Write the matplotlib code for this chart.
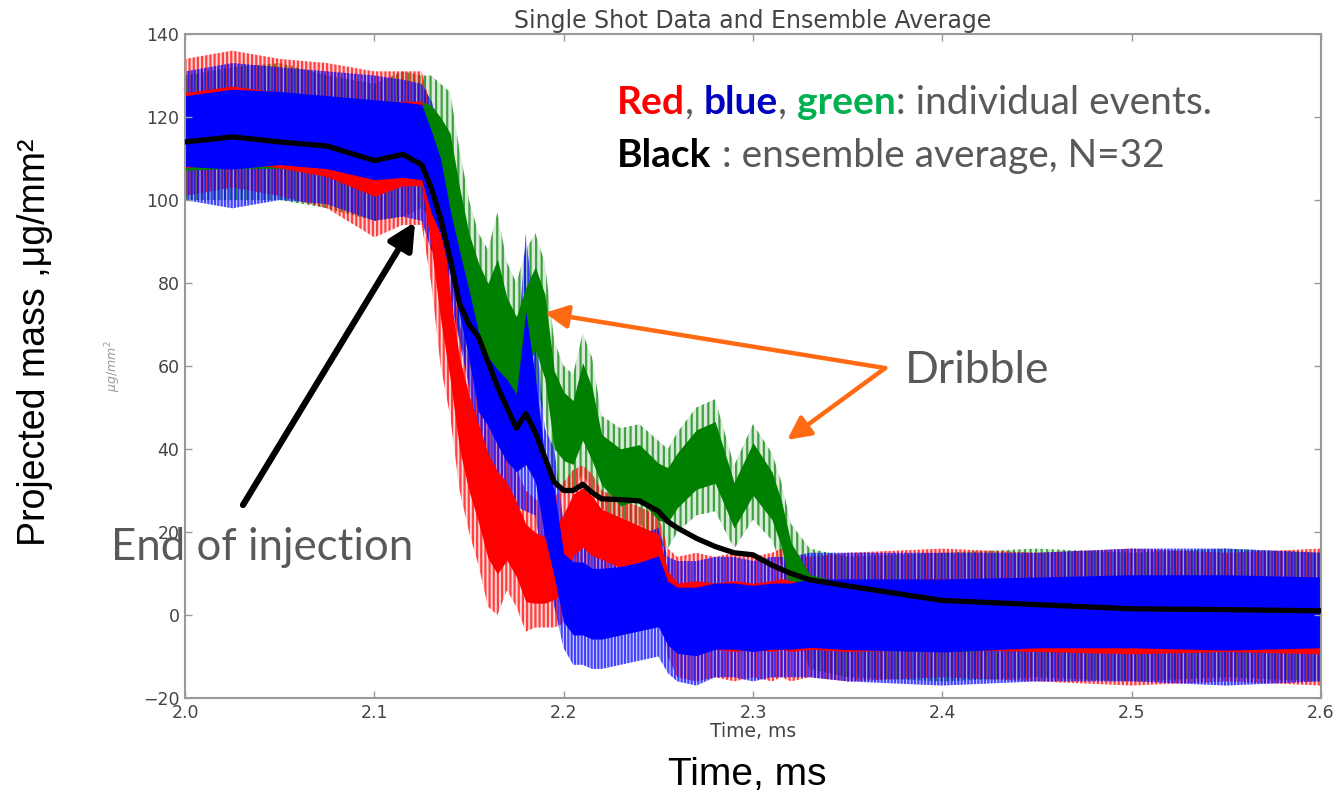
import matplotlib
matplotlib.use("Agg")
from matplotlib import pyplot as plt
import numpy as np

t = [2.000, 2.025, 2.050, 2.075, 2.100, 2.115, 2.125, 2.130, 2.135, 2.140,
     2.145, 2.150, 2.155, 2.160, 2.165, 2.170, 2.175, 2.180, 2.185, 2.190,
     2.195, 2.200, 2.205, 2.210, 2.215, 2.220, 2.230, 2.240, 2.250, 2.255,
     2.260, 2.270, 2.280, 2.290, 2.300, 2.310, 2.315, 2.320, 2.330, 2.350,
     2.400, 2.450, 2.500, 2.550, 2.600]

# single shots: centre of the noisy trace and its lowest / highest excursion
blue_mid = [118, 119, 119, 118, 117, 117, 117, 108, 100, 90,
            80, 70, 60, 55, 52, 48, 45, 50, 42, 30,
            18, 6, 4, 4, 3, 3, 4, 5, 6, 1,
            -1, -1, 0, 0, 0, 0, 0, 0, 1, 1,
            1, 2, 2, 2, 2]
blue_lo = [100, 98, 100, 99, 95, 96, 95, 88, 85, 76,
           66, 55, 40, 38, 32, 28, 26, 25, 24, 10,
           2, -8, -12, -12, -13, -13, -12, -11, -10, -14,
           -16, -17, -15, -15, -16, -15, -15, -15, -15, -16,
           -17, -16, -16, -17, -16]
blue_hi = [131, 133, 132, 131, 130, 129, 128, 124, 118, 104,
           94, 85, 75, 68, 65, 64, 60, 92, 70, 45,
           40, 22, 20, 20, 18, 18, 18, 19, 21, 14,
           13, 13, 14, 14, 13, 14, 14, 14, 15, 15,
           15, 15, 16, 16, 15]

red_mid = [116, 117, 116, 115, 113, 115, 115, 100, 85, 68,
           52, 42, 35, 28, 22, 22, 18, 12, 10, 10,
           12, 15, 22, 24, 22, 20, 18, 16, 14, 4,
           0, 0, 0, 0, 0, 0, 0, 0, 0, 0,
           0, 0, 0, 0, 0]
red_lo = [101, 103, 101, 98, 91, 94, 94, 80, 60, 48,
          30, 20, 12, 2, 0, 6, 2, -4, -3, -3,
          -3, -2, 8, 10, 8, 8, 6, 4, 2, -10,
          -15, -16, -15, -16, -15, -16, -15, -16, -15, -16,
          -15, -16, -17, -16, -17]
red_hi = [134, 136, 134, 133, 131, 131, 131, 122, 110, 85,
          70, 62, 55, 48, 45, 40, 35, 30, 28, 26,
          28, 32, 35, 36, 34, 30, 28, 26, 24, 16,
          14, 15, 14, 15, 14, 15, 16, 15, 14, 15,
          16, 15, 16, 15, 16]

green_mid = [116, 117, 117, 116, 114, 115, 116, 114, 110, 104,
             92, 82, 76, 70, 72, 66, 62, 68, 74, 68,
             50, 46, 44, 52, 46, 38, 34, 35, 30, 30,
             33, 38, 40, 27, 36, 29, 22, 12, 2, 0,
             0, 0, 0, 0, 0]
green_lo = [100, 100, 100, 98, 95, 96, 98, 96, 90, 82,
            66, 60, 55, 48, 48, 46, 46, 50, 56, 48,
            32, 30, 30, 34, 30, 26, 20, 22, 17, 16,
            20, 24, 25, 16, 23, 18, 12, 0, -13, -15,
            -16, -15, -16, -15, -16]
green_hi = [130, 132, 133, 130, 128, 131, 130, 130, 128, 126,
            112, 100, 92, 88, 97, 85, 80, 88, 92, 85,
            66, 60, 58, 68, 62, 48, 45, 46, 42, 40,
            44, 50, 52, 36, 46, 39, 32, 22, 16, 14,
            15, 16, 15, 16, 15]

# ensemble average, N=32
avg = [114, 115.2, 114, 113, 109.5, 111, 108.5, 103, 95.5, 86,
       75, 70, 67, 61, 55, 50, 45, 48.5, 44, 38,
       32, 30, 30, 31.5, 29.5, 28, 27.8, 27.5, 25, 22.5,
       21, 18.5, 16.5, 15, 14.5, 12, 11, 10, 8.5, 7,
       3.5, 2.5, 1.5, 1.3, 1.0]

x_ticks = [2.0, 2.1, 2.2, 2.3, 2.4, 2.5, 2.6]
y_ticks = [-20, 0, 20, 40, 60, 80, 100, 120, 140]

GRAY = '#595959'
ORANGE = '#ff6a13'
ANNOT_FONT = ['Lato', 'DejaVu Sans']

plt.rcParams['hatch.linewidth'] = 1.6

fig = plt.figure(figsize=(13.36, 7.93), dpi=100)
ax = fig.add_axes([0.1385, 0.1198, 0.8503, 0.8373])

traces = [(green_mid, green_lo, green_hi, (0, 0.5, 0), '|||'),
          (red_mid, red_lo, red_hi, (1, 0, 0), '||||'),
          (blue_mid, blue_lo, blue_hi, (0, 0, 1), '|||||')]

# spikes: full excursion, light wash plus vertical strokes
for mid, lo, hi, col, hatch in traces:
    ax.fill_between(t, lo, hi, facecolor=col + (0.15,), lw=0)
    ax.fill_between(t, lo, hi, facecolor='none', edgecolor=col + (0.7,),
                    hatch=hatch, lw=0)
# dense core of each trace
for mid, lo, hi, col, hatch in traces:
    mid, lo, hi = np.array(mid), np.array(lo), np.array(hi)
    ax.fill_between(t, mid - 0.55 * (mid - lo), mid + 0.55 * (hi - mid),
                    color=col, lw=0)

ax.plot(t, avg, color='k', lw=3.8, zorder=5)

ax.set_xlim(2.0, 2.6)
ax.set_ylim(-20, 140)
ax.set_xticks(x_ticks)
ax.set_yticks(y_ticks)
ax.xaxis.set_major_formatter(matplotlib.ticker.FormatStrFormatter('%.1f'))
ax.tick_params(direction='in', top=True, right=True, length=5, width=1,
               color='#999999', labelsize=12.5, labelcolor='#444444', pad=4)
for sp in ax.spines.values():
    sp.set_color('#999999')
    sp.set_linewidth(1.5)

ax.set_title('Single Shot Data and Ensemble Average', fontsize=17,
             color='#444444', pad=4)
ax.set_xlabel('Time, ms', fontsize=13.5, color='#444444', labelpad=0)
ax.set_ylabel(r'$\mu g/mm^2$', fontsize=9, color='#999999')
ax.yaxis.set_label_coords(-0.055, 0.5)

# big slide-style labels
fig.text(0.026, 0.569, 'Projected mass ,\u03bcg/mm\u00b2', rotation=90,
         ha='center', va='center', fontsize=27, family='Liberation Sans')
fig.text(0.559, 0.0227, 'Time, ms', ha='center', va='center', fontsize=28,
         family='Liberation Sans')

fig.text(0.196, 0.309, 'End of injection', ha='center', va='center',
         fontsize=31.5, color=GRAY, family=ANNOT_FONT)
ax.text(2.380, 59, 'Dribble', ha='left', va='center', fontsize=32,
        color=GRAY, family=ANNOT_FONT)

ax.annotate('', xy=(2.1215, 94.7), xytext=(2.0306, 26.5),
            arrowprops=dict(arrowstyle='-|>', lw=4.5, color='k',
                            mutation_scale=40, shrinkA=0, shrinkB=0))
for end in [(2.190, 72.8), (2.318, 42.2)]:
    ax.annotate('', xy=end, xytext=(2.3698, 59.5),
                arrowprops=dict(arrowstyle='-|>', lw=3.2, color=ORANGE,
                                mutation_scale=35, shrinkA=0, shrinkB=0))

# coloured legend text, built piece by piece
renderer = fig.canvas.get_renderer()
W = fig.bbox.width


def text_line(x, y, pieces, size):
    for s, col, weight in pieces:
        txt = fig.text(x, y, s, color=col, fontweight=weight, fontsize=size,
                       family=ANNOT_FONT, ha='left', va='baseline')
        x += txt.get_window_extent(renderer).width / W


text_line(0.462, 0.856, [('Red', '#ff0000', 'bold'), (', ', GRAY, 'normal'),
                         ('blue', '#0000c0', 'bold'), (', ', GRAY, 'normal'),
                         ('green', '#00b050', 'bold'),
                         (': individual events.', GRAY, 'normal')], 28)
text_line(0.462, 0.790, [('Black', 'k', 'bold'),
                         (' : ensemble average, N=32', GRAY, 'normal')], 28)

fig.savefig('out.png', dpi=100)
